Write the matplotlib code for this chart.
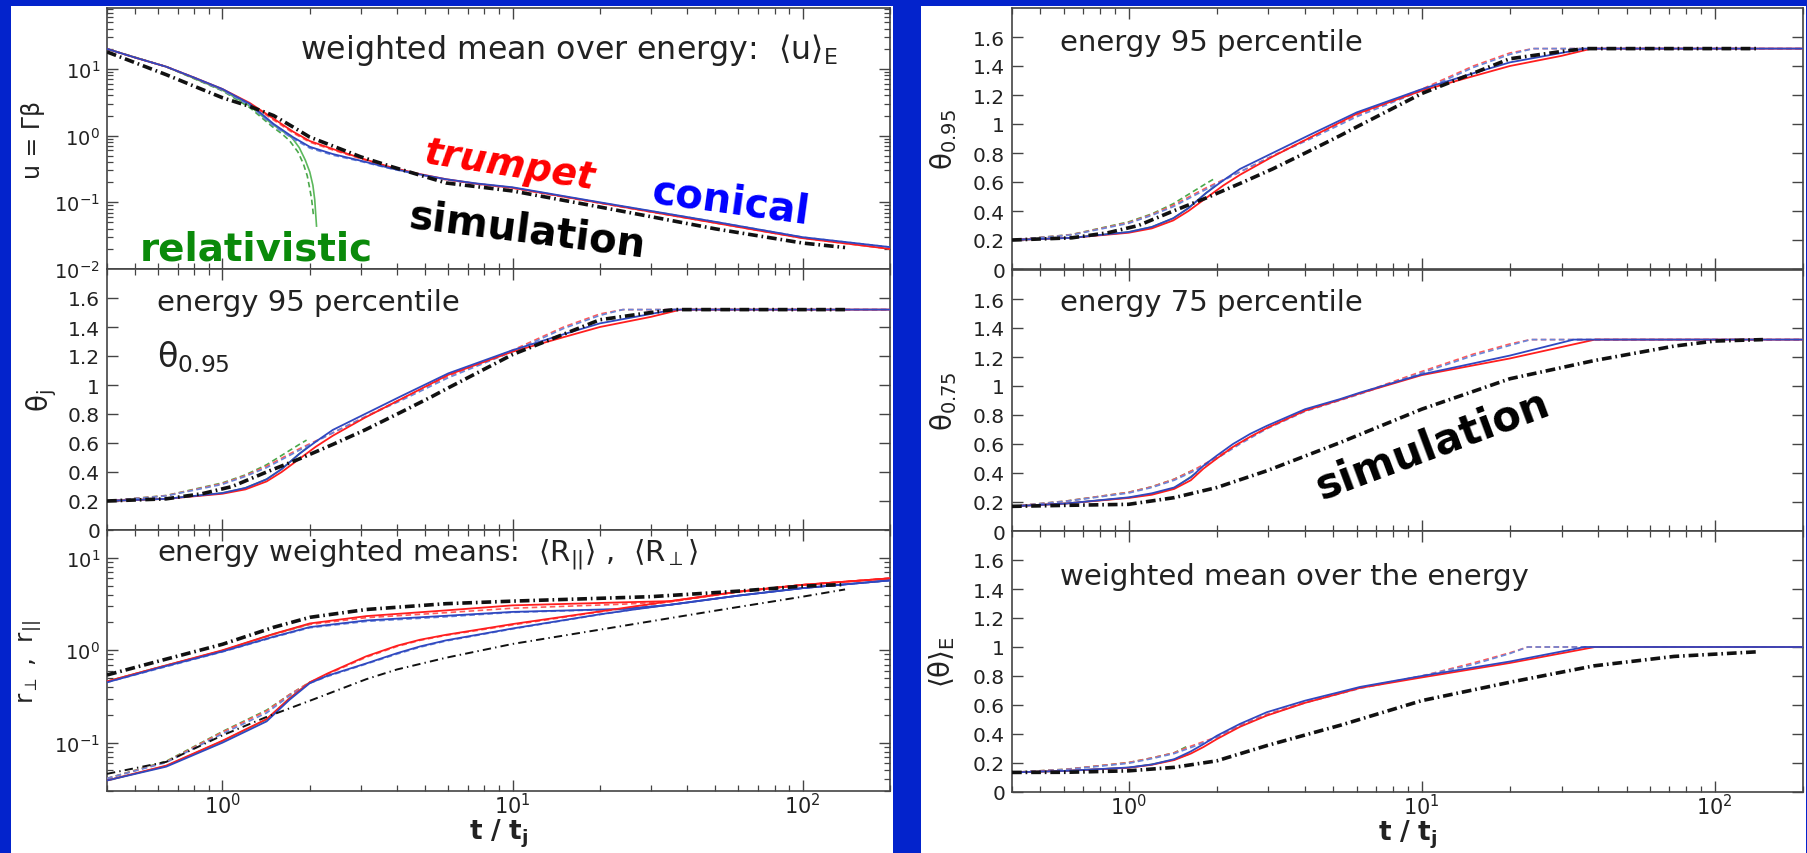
import matplotlib
matplotlib.use('Agg')
import matplotlib.pyplot as plt
from matplotlib.patches import Rectangle
from matplotlib.ticker import FixedLocator, FuncFormatter, LogLocator, NullFormatter

# ---------------- data ----------------
# top-left: u = Gamma*beta, weighted mean over energy
u_t = [0.4, 0.5, 0.64, 0.8, 1.0, 1.24, 1.5, 1.75, 2.0, 2.4, 3.0, 3.85, 4.8, 5.9, 7.5, 10, 20, 50, 100, 200]
u_red = [20, 14.8, 10.8, 7.4, 5.0, 3.1, 1.8, 1.15, 0.83, 0.63, 0.46, 0.33, 0.265, 0.222, 0.19, 0.165, 0.098, 0.049, 0.029, 0.020]
u_blue = [20, 14.8, 10.8, 7.4, 5.0, 3.0, 1.5, 0.95, 0.68, 0.53, 0.42, 0.32, 0.262, 0.222, 0.192, 0.168, 0.10, 0.051, 0.030, 0.0213]
u_red_d = [20, 14.8, 10.8, 7.4, 4.9, 3.0, 1.72, 1.1, 0.80, 0.61, 0.45, 0.325, 0.26, 0.218, 0.188, 0.163, 0.097, 0.049, 0.029, 0.020]
u_blue_d = [20, 14.8, 10.8, 7.3, 4.8, 2.85, 1.4, 0.9, 0.65, 0.51, 0.41, 0.315, 0.258, 0.218, 0.19, 0.166, 0.099, 0.051, 0.030, 0.0213]
u_green_t = [0.4, 0.64, 1.0, 1.24, 1.48, 1.62, 1.74, 1.84, 1.93, 2.0, 2.05, 2.08, 2.11]
u_green = [20, 10.8, 4.8, 2.8, 1.5, 1.15, 0.92, 0.66, 0.43, 0.285, 0.18, 0.11, 0.044]
u_green_d_t = [0.4, 0.64, 1.0, 1.24, 1.48, 1.6, 1.7, 1.82, 1.9, 1.96, 2.0, 2.03, 2.06]
u_green_d = [20, 10.8, 4.7, 2.65, 1.38, 1.07, 0.85, 0.57, 0.38, 0.25, 0.16, 0.11, 0.063]
u_black_t = [0.4, 0.5, 0.64, 0.8, 1.0, 1.24, 1.5, 1.75, 2.0, 2.4, 3.0, 3.85, 5.9, 10, 20, 50, 100, 140]
u_black = [18, 12.4, 8.2, 5.5, 3.7, 2.75, 2.0, 1.35, 0.95, 0.70, 0.48, 0.34, 0.195, 0.148, 0.085, 0.040, 0.0245, 0.021]

# energy 95 percentile opening angle (left middle and right top)
th95_red_t = [0.4, 0.64, 1.0, 1.2, 1.42, 1.6, 1.84, 2.1, 2.4, 3.1, 4.1, 6.0, 10, 15, 20, 30, 38, 200]
th95_red = [0.20, 0.215, 0.25, 0.28, 0.335, 0.40, 0.49, 0.575, 0.65, 0.775, 0.90, 1.07, 1.23, 1.33, 1.40, 1.47, 1.52, 1.52]
th95_blue_t = [0.4, 0.64, 1.0, 1.2, 1.42, 1.6, 1.84, 2.1, 2.4, 3.1, 4.1, 6.0, 10, 15, 20, 30, 36, 200]
th95_blue = [0.20, 0.215, 0.255, 0.29, 0.35, 0.42, 0.525, 0.61, 0.69, 0.80, 0.92, 1.08, 1.24, 1.35, 1.425, 1.49, 1.52, 1.52]
th95_dash_t = [0.4, 0.64, 1.0, 1.2, 1.42, 1.84, 2.4, 3.1, 4.1, 6.0, 10, 15, 20, 24, 200]
th95_red_d = [0.20, 0.237, 0.32, 0.375, 0.44, 0.56, 0.67, 0.78, 0.90, 1.06, 1.24, 1.40, 1.49, 1.52, 1.52]
th95_blue_d = [0.20, 0.235, 0.315, 0.37, 0.43, 0.55, 0.67, 0.78, 0.89, 1.05, 1.23, 1.39, 1.48, 1.52, 1.52]
th95_green_t = [0.4, 0.64, 1.0, 1.2, 1.42, 1.6, 1.84, 1.95]
th95_green = [0.20, 0.215, 0.255, 0.29, 0.35, 0.42, 0.525, 0.565]
th95_green_d_t = [0.4, 0.64, 1.0, 1.2, 1.42, 1.84, 1.95]
th95_green_d = [0.20, 0.238, 0.325, 0.38, 0.45, 0.59, 0.62]
th95_black_t = [0.4, 0.64, 0.85, 1.08, 1.42, 1.84, 2.4, 3.1, 4.1, 5.27, 6.0, 10, 20, 30, 36, 140]
th95_black = [0.20, 0.215, 0.25, 0.30, 0.40, 0.49, 0.59, 0.69, 0.81, 0.92, 0.98, 1.21, 1.45, 1.50, 1.52, 1.52]

# bottom-left: r_parallel (upper group) and r_perp (lower group)
rpa_t = [0.4, 0.6, 1.0, 1.5, 2.0, 3.13, 5.9, 10, 24, 35, 60, 100, 200]
rpa_red = [0.46, 0.65, 1.0, 1.5, 1.95, 2.34, 2.7, 3.06, 3.3, 3.4, 4.3, 5.1, 6.0]
rpa_blue = [0.45, 0.64, 0.97, 1.4, 1.78, 2.1, 2.36, 2.6, 2.8, 3.1, 3.9, 4.7, 5.7]
rpa_red_d = [0.46, 0.65, 0.99, 1.48, 1.9, 2.25, 2.55, 2.85, 3.15, 3.35, 4.3, 5.1, 6.0]
rpa_blue_d = [0.45, 0.63, 0.96, 1.38, 1.75, 2.05, 2.3, 2.57, 2.78, 3.1, 3.9, 4.7, 5.7]
rpa_green_t = [0.4, 0.6, 1.0, 1.5, 2.0]
rpa_green = [0.46, 0.65, 0.99, 1.5, 1.92]
rpa_black_t = [0.4, 0.6, 1.0, 1.5, 2.0, 3.13, 5.9, 10, 30, 60, 100, 140]
rpa_black = [0.54, 0.76, 1.16, 1.77, 2.27, 2.76, 3.19, 3.4, 3.8, 4.36, 4.94, 5.15]

rpe_red_t = [0.4, 0.64, 1.0, 1.42, 1.7, 2.0, 2.3, 3.13, 4.0, 4.8, 5.9, 10, 20, 35, 60, 100, 200]
rpe_red = [0.039, 0.0565, 0.105, 0.18, 0.30, 0.45, 0.56, 0.86, 1.12, 1.3, 1.47, 1.92, 2.63, 3.4, 4.3, 5.1, 6.0]
rpe_red_d = [0.041, 0.062, 0.13, 0.22, 0.33, 0.45, 0.55, 0.84, 1.1, 1.28, 1.45, 1.88, 2.6, 3.35, 4.3, 5.1, 6.0]
rpe_blue_t = [0.4, 0.64, 1.0, 1.42, 1.7, 2.0, 2.3, 3.13, 4.0, 4.8, 5.9, 10, 20, 26, 60, 100, 200]
rpe_blue = [0.039, 0.055, 0.10, 0.17, 0.29, 0.44, 0.53, 0.72, 0.93, 1.1, 1.28, 1.72, 2.45, 2.75, 3.9, 4.7, 5.7]
rpe_blue_d = [0.041, 0.061, 0.125, 0.21, 0.32, 0.44, 0.52, 0.71, 0.91, 1.08, 1.26, 1.70, 2.43, 2.75, 3.9, 4.7, 5.7]
rpe_green_t = [0.4, 0.64, 1.0, 1.42, 1.7, 2.0]
rpe_green = [0.039, 0.056, 0.104, 0.178, 0.30, 0.45]
rpe_green_d = [0.041, 0.063, 0.132, 0.225, 0.33, 0.45]
rpe_black_t = [0.4, 0.64, 1.0, 1.42, 2.0, 3.13, 4.0, 5.9, 10, 20, 50, 100, 140]
rpe_black = [0.046, 0.062, 0.12, 0.19, 0.284, 0.486, 0.62, 0.83, 1.17, 1.67, 2.68, 3.8, 4.55]

# right middle: energy 75 percentile
th75_red_t = [0.4, 0.614, 1.0, 1.2, 1.43, 1.63, 1.8, 2.0, 2.27, 2.6, 2.96, 4.0, 5.27, 6.17, 10, 20, 39, 200]
th75_red = [0.17, 0.19, 0.228, 0.25, 0.29, 0.35, 0.43, 0.50, 0.58, 0.65, 0.71, 0.83, 0.905, 0.95, 1.075, 1.19, 1.32, 1.32]
th75_blue_t = [0.4, 0.614, 1.0, 1.2, 1.43, 1.63, 1.8, 2.0, 2.27, 2.6, 2.96, 4.0, 5.27, 6.17, 10, 20, 33, 200]
th75_blue = [0.17, 0.19, 0.232, 0.26, 0.30, 0.37, 0.45, 0.52, 0.60, 0.67, 0.725, 0.84, 0.91, 0.955, 1.08, 1.21, 1.32, 1.32]
th75_dash_t = [0.4, 0.614, 1.0, 1.2, 1.43, 1.7, 2.0, 2.4, 2.96, 4.0, 6.17, 10, 15, 20, 23.5, 200]
th75_red_d = [0.17, 0.207, 0.267, 0.305, 0.357, 0.43, 0.51, 0.61, 0.71, 0.83, 0.95, 1.10, 1.22, 1.29, 1.32, 1.32]
th75_blue_d = [0.17, 0.205, 0.262, 0.30, 0.35, 0.42, 0.50, 0.60, 0.705, 0.825, 0.945, 1.09, 1.21, 1.28, 1.32, 1.32]
th75_green_t = [0.4, 0.614, 1.0, 1.2, 1.43, 1.7]
th75_green = [0.17, 0.19, 0.23, 0.255, 0.295, 0.40]
th75_green_d = [0.17, 0.207, 0.267, 0.305, 0.357, 0.43]
th75_black_t = [0.4, 0.614, 1.0, 1.43, 2.0, 2.96, 5.27, 10, 20, 38.7, 72.6, 100, 146]
th75_black = [0.17, 0.177, 0.184, 0.23, 0.30, 0.415, 0.61, 0.84, 1.05, 1.175, 1.275, 1.31, 1.32]

# right bottom: weighted mean over the energy
thE_red_t = [0.4, 0.614, 1.0, 1.2, 1.43, 1.63, 1.8, 2.0, 2.4, 2.96, 4.0, 5.27, 6.17, 10, 20, 39, 200]
thE_red = [0.135, 0.146, 0.167, 0.188, 0.22, 0.265, 0.31, 0.365, 0.45, 0.527, 0.615, 0.68, 0.718, 0.79, 0.89, 1.0, 1.0]
thE_blue_t = [0.4, 0.614, 1.0, 1.2, 1.43, 1.63, 1.8, 2.0, 2.4, 2.96, 4.0, 5.27, 6.17, 10, 20, 36, 200]
thE_blue = [0.135, 0.146, 0.169, 0.19, 0.226, 0.28, 0.33, 0.388, 0.47, 0.55, 0.63, 0.69, 0.725, 0.80, 0.90, 1.0, 1.0]
thE_dash_t = [0.4, 0.614, 1.0, 1.2, 1.43, 1.6, 2.0, 2.4, 2.96, 4.0, 6.17, 10, 15, 20, 23, 200]
thE_red_d = [0.135, 0.157, 0.203, 0.235, 0.27, 0.31, 0.38, 0.46, 0.535, 0.62, 0.72, 0.80, 0.89, 0.96, 1.0, 1.0]
thE_blue_d = [0.135, 0.155, 0.198, 0.23, 0.265, 0.30, 0.375, 0.455, 0.53, 0.615, 0.715, 0.80, 0.88, 0.955, 1.0, 1.0]
thE_green_t = [0.4, 0.614, 1.0, 1.2, 1.43, 1.6]
thE_green = [0.135, 0.146, 0.168, 0.19, 0.224, 0.26]
thE_green_d = [0.135, 0.157, 0.203, 0.235, 0.27, 0.32]
thE_black_t = [0.4, 0.614, 1.0, 1.43, 2.0, 2.96, 5.27, 10, 20, 38.7, 72.6, 140]
thE_black = [0.135, 0.136, 0.146, 0.17, 0.215, 0.32, 0.46, 0.63, 0.757, 0.87, 0.935, 0.967]

theta_ticks = [0, 0.2, 0.4, 0.6, 0.8, 1.0, 1.2, 1.4, 1.6]

# ---------------- style ----------------
plt.rcParams['font.family'] = ['DejaVu Sans']
plt.rcParams['mathtext.fontset'] = 'dejavusans'
plt.rcParams['mathtext.default'] = 'regular'
plt.rcParams['lines.scale_dashes'] = False

BG = '#0323cc'
TXT = '#222222'
ANN = 21
STY = {
    'red':    dict(color='#ff1e1e', lw=1.3, zorder=3),
    'red_d':  dict(color='#ff5a5a', lw=1.2, dashes=(4, 2.5), zorder=3),
    'blue':   dict(color='#3048c0', lw=1.3, zorder=3),
    'blue_d': dict(color='#6a86d8', lw=1.2, dashes=(4, 2.5), zorder=3),
    'green':  dict(color='#5cb85c', lw=1.2, zorder=2),
    'green_d': dict(color='#4aa84a', lw=1.2, dashes=(4, 2.5), zorder=2),
    'black':  dict(color='#111111', lw=2.6, dashes=(7, 2.8, 1.2, 2.8), zorder=4),
    'black_thin': dict(color='#111111', lw=1.4, dashes=(6, 3, 1, 3), zorder=4),
}

W, H = 1808, 854
fig = plt.figure(figsize=(W / 100, H / 100), dpi=100, facecolor=BG)
fig.add_artist(Rectangle((11 / W, 0), 882 / W, 847 / H, transform=fig.transFigure,
                         fc='white', ec='none', zorder=-5))
fig.add_artist(Rectangle((921 / W, 0), 885 / W, 847 / H, transform=fig.transFigure,
                         fc='white', ec='none', zorder=-5))

hh = 261 / H
axL = [fig.add_axes([107 / W, 1 - b / H, 783 / W, hh]) for b in (270, 531, 792)]
axR = [fig.add_axes([1012 / W, 1 - b / H, 791 / W, hh]) for b in (270, 532, 793)]


def style_axes(ax, bottom_labels):
    ax.set_xscale('log')
    ax.set_xlim(0.4, 200)
    for s in ax.spines.values():
        s.set_color('#444444')
        s.set_linewidth(1.2)
    ax.tick_params(which='both', direction='in', top=True, right=True, color='#444444',
                   labelcolor=TXT)
    ax.tick_params(which='major', length=8, width=1.0)
    ax.tick_params(which='minor', length=4, width=0.9)
    ax.tick_params(axis='x', labelsize=15, labelbottom=bottom_labels, pad=1)
    ax.tick_params(axis='y', labelsize=14, pad=5)
    ax.xaxis.set_major_locator(LogLocator(base=10, numticks=10))
    ax.xaxis.set_minor_locator(LogLocator(base=10, subs=range(2, 10), numticks=20))
    ax.xaxis.set_minor_formatter(NullFormatter())


def theta_axes(ax):
    ax.set_ylim(0, 1.8)
    ax.yaxis.set_major_locator(FixedLocator(theta_ticks))
    ax.yaxis.set_major_formatter(FuncFormatter(lambda v, p: f"{v:g}"))
    ax.tick_params(axis='y', labelsize=14.5)


def line(ax, t, v, kind):
    ax.plot(t, v, **STY[kind])


def theta95(ax):
    line(ax, th95_green_t, th95_green, 'green')
    line(ax, th95_green_d_t, th95_green_d, 'green_d')
    line(ax, th95_dash_t, th95_red_d, 'red_d')
    line(ax, th95_dash_t, th95_blue_d, 'blue_d')
    line(ax, th95_red_t, th95_red, 'red')
    line(ax, th95_blue_t, th95_blue, 'blue')
    line(ax, th95_black_t, th95_black, 'black')


def xlabel(ax):
    ax.set_xlabel(r'$\mathbf{t\ /\ t_j}$', fontsize=19, color=TXT, va='top')
    ax.xaxis.set_label_coords(0.5, -0.1)


# ---- left top: u ----
ax = axL[0]
style_axes(ax, False)
ax.set_yscale('log')
ax.set_ylim(0.01, 82)
ax.yaxis.set_major_locator(LogLocator(base=10, numticks=10))
ax.yaxis.set_minor_locator(LogLocator(base=10, subs=range(2, 10), numticks=20))
ax.yaxis.set_minor_formatter(NullFormatter())
line(ax, u_green_t, u_green, 'green')
line(ax, u_green_d_t, u_green_d, 'green_d')
line(ax, u_t, u_red_d, 'red_d')
line(ax, u_t, u_blue_d, 'blue_d')
line(ax, u_t, u_red, 'red')
line(ax, u_t, u_blue, 'blue')
line(ax, u_black_t, u_black, 'black')
ax.set_ylabel('u = Γβ', fontsize=17, color=TXT, va='center')
ax.yaxis.set_label_coords(-0.095, 0.5)
ax.text(0.2465, 0.843, r'weighted mean over energy:  $\langle u\rangle_E$', transform=ax.transAxes,
        fontsize=22.8, color=TXT, va='center', ha='left')
ax.text(0.4036, 0.41, 'trumpet', transform=ax.transAxes, fontsize=27, color='#ff0000',
        fontweight='bold', fontstyle='italic', rotation=-8.8, rotation_mode='anchor',
        ha='left', va='baseline')
ax.text(0.6935, 0.2567, 'conical', transform=ax.transAxes, fontsize=29, color='#0000ff',
        fontweight='bold', rotation=-7.8, rotation_mode='anchor', ha='left', va='baseline')
ax.text(0.3844, 0.161, 'simulation', transform=ax.transAxes, fontsize=29, color='black',
        fontweight='bold', rotation=-7.2, rotation_mode='anchor', ha='left', va='baseline')
ax.text(0.042, 0.038, 'relativistic', transform=ax.transAxes, fontsize=28, color='#0a8a0a',
        fontweight='bold', ha='left', va='baseline')

# ---- left middle: theta_0.95 ----
ax = axL[1]
style_axes(ax, False)
theta_axes(ax)
theta95(ax)
ax.set_ylabel(r'$\theta_j$', fontsize=20, color=TXT, va='center')
ax.yaxis.set_label_coords(-0.083, 0.5)
ax.text(0.064, 0.874, 'energy 95 percentile', transform=ax.transAxes, fontsize=ANN,
        color=TXT, va='center', ha='left')
ax.text(0.064, 0.667, r'$\theta_{0.95}$', transform=ax.transAxes, fontsize=24,
        color=TXT, va='center', ha='left')

# ---- left bottom: r ----
ax = axL[2]
style_axes(ax, True)
ax.set_yscale('log')
ax.set_ylim(0.03, 20)
ax.yaxis.set_major_locator(LogLocator(base=10, numticks=10))
ax.yaxis.set_minor_locator(LogLocator(base=10, subs=range(2, 10), numticks=20))
ax.yaxis.set_minor_formatter(NullFormatter())
line(ax, rpa_green_t, rpa_green, 'green')
line(ax, rpe_green_t, rpe_green, 'green')
line(ax, rpe_green_t, rpe_green_d, 'green_d')
line(ax, rpa_t, rpa_red_d, 'red_d')
line(ax, rpa_t, rpa_blue_d, 'blue_d')
line(ax, rpe_red_t, rpe_red_d, 'red_d')
line(ax, rpe_blue_t, rpe_blue_d, 'blue_d')
line(ax, rpa_t, rpa_red, 'red')
line(ax, rpa_t, rpa_blue, 'blue')
line(ax, rpe_red_t, rpe_red, 'red')
line(ax, rpe_blue_t, rpe_blue, 'blue')
line(ax, rpa_black_t, rpa_black, 'black')
line(ax, rpe_black_t, rpe_black, 'black_thin')
ax.set_ylabel(r'$r_{\perp}$ ,  $r_{||}$', fontsize=18, color=TXT, va='center')
ax.yaxis.set_label_coords(-0.098, 0.5)
ax.text(0.064, 0.908, r'energy weighted means:  $\langle R_{||}\rangle$ ,  $\langle R_{\perp}\rangle$',
        transform=ax.transAxes, fontsize=ANN, color=TXT, va='center', ha='left')
xlabel(ax)

# ---- right top: theta_0.95 ----
ax = axR[0]
style_axes(ax, False)
theta_axes(ax)
theta95(ax)
ax.set_ylabel(r'$\theta_{0.95}$', fontsize=20, color=TXT, va='center')
ax.yaxis.set_label_coords(-0.086, 0.5)
ax.text(0.0607, 0.87, 'energy 95 percentile', transform=ax.transAxes, fontsize=ANN,
        color=TXT, va='center', ha='left')

# ---- right middle: theta_0.75 ----
ax = axR[1]
style_axes(ax, False)
theta_axes(ax)
line(ax, th75_green_t, th75_green, 'green')
line(ax, th75_green_t, th75_green_d, 'green_d')
line(ax, th75_dash_t, th75_red_d, 'red_d')
line(ax, th75_dash_t, th75_blue_d, 'blue_d')
line(ax, th75_red_t, th75_red, 'red')
line(ax, th75_blue_t, th75_blue, 'blue')
line(ax, th75_black_t, th75_black, 'black')
ax.set_ylabel(r'$\theta_{0.75}$', fontsize=20, color=TXT, va='center')
ax.yaxis.set_label_coords(-0.086, 0.5)
ax.text(0.0607, 0.877, 'energy 75 percentile', transform=ax.transAxes, fontsize=ANN,
        color=TXT, va='center', ha='left')
ax.text(0.392, 0.123, 'simulation', transform=ax.transAxes, fontsize=30, color='black',
        fontweight='bold', rotation=20.5, rotation_mode='anchor', ha='left', va='baseline')

# ---- right bottom: <theta>_E ----
ax = axR[2]
style_axes(ax, True)
theta_axes(ax)
line(ax, thE_green_t, thE_green, 'green')
line(ax, thE_green_t, thE_green_d, 'green_d')
line(ax, thE_dash_t, thE_red_d, 'red_d')
line(ax, thE_dash_t, thE_blue_d, 'blue_d')
line(ax, thE_red_t, thE_red, 'red')
line(ax, thE_blue_t, thE_blue, 'blue')
line(ax, thE_black_t, thE_black, 'black')
ax.set_ylabel(r'$\langle\theta\rangle_E$', fontsize=20, color=TXT, va='center')
ax.yaxis.set_label_coords(-0.0885, 0.5)
ax.text(0.0607, 0.828, 'weighted mean over the energy', transform=ax.transAxes, fontsize=ANN,
        color=TXT, va='center', ha='left')
xlabel(ax)

fig.savefig('out.png', dpi=100, facecolor=BG)
